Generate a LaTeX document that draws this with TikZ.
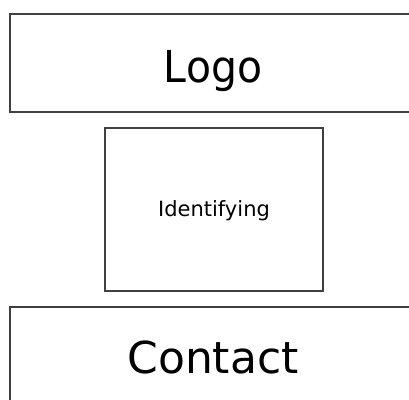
\documentclass[tikz,border=0pt]{standalone}
\usepackage{fontspec}
\setmainfont{DejaVu Sans}
\begin{document}
\begin{tikzpicture}[x=1pt,y=-1pt,
  sketchbox/.style={draw=black!75, line width=1.1pt, fill=white},
  bigtext/.style={font=\fontsize{44}{50}\selectfont, text=black},
  smalltext/.style={font=\fontsize{21}{25}\selectfont, text=black}]
\useasboundingbox (0,0) rectangle (409,399);
\begin{scope}
\clip (0,0) rectangle (409,399);
\draw[sketchbox] (10,14) rectangle (418,112);
\draw[sketchbox] (105,128) rectangle (323,291);
\draw[sketchbox] (10,307) rectangle (418,410);
\end{scope}
\node[bigtext, anchor=base, xscale=0.93] (logo) at (213,82) {Logo};
\node[smalltext, anchor=base] (ident) at (214,216) {Identifying};
\node[bigtext, anchor=base] (contact) at (213,373) {Contact};
\end{tikzpicture}
\end{document}
